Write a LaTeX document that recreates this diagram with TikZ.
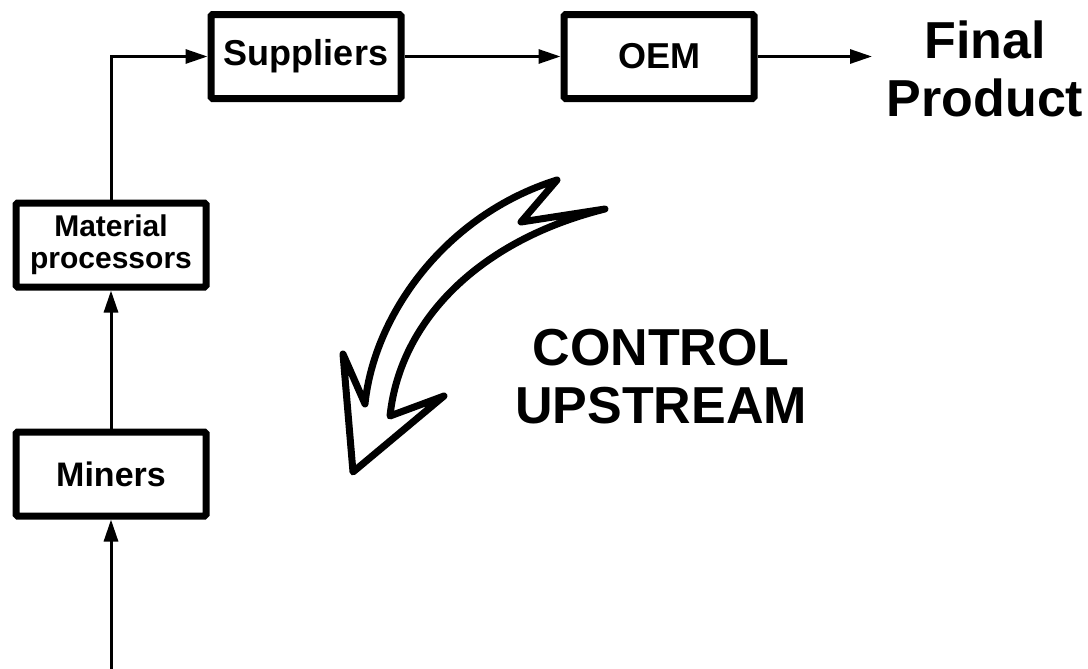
\documentclass[tikz,border=0pt]{standalone}
\usepackage{fontspec}
\setmainfont{Liberation Sans}
\usetikzlibrary{arrows.meta,positioning}

\begin{document}
\begin{tikzpicture}[x=0.5pt, y=-0.5pt,
    box/.style={draw, line width=3.5pt, rounded corners=0.8pt, minimum width=95pt,
        minimum height=42pt, inner sep=0pt, align=center,
        font=\bfseries\fontsize{18}{20}\selectfont},
    flow/.style={line width=1.5pt, -{Triangle[length=11pt,width=7pt]}},
    big/.style={align=center, font=\bfseries\fontsize{26}{29}\selectfont}]
    \useasboundingbox (0,0) rectangle (1088,669);

    % Chain of boxes
    \node[box] (sup) at (306,56.5) {Suppliers};
    \node[box] (oem) at (659,56.5) {OEM};
    \node[box, font=\bfseries\fontsize{15}{16}\selectfont] (mat) at (111,245) {Material\\processors};
    \node[box, font=\bfseries\fontsize{17}{20}\selectfont] (min) at (111,474) {Miners};

    % Labels
    \node[big] (fin) at (985,69) {Final\\Product};
    \node[big] (ctl) at (661,377) {CONTROL\\UPSTREAM};
    \coordinate (src) at (111,669);
    \coordinate (out) at (872,56.5);

    % Flow of material
    \draw[flow] (src) -- (min);
    \draw[flow] (min) -- (mat);
    \draw[flow] (mat.north) |- (sup);
    \draw[flow] (sup) -- (oem);
    \draw[flow] (oem) -- (out);

    % Hollow zigzag arrow pointing back down the chain
    \draw[line width=3.5pt, line join=round, line cap=round]
        (353,472) -- (343,354) -- (365,404)
        .. controls (374,315) and (445,215) .. (557,180)
        -- (521,222) -- (605,209)
        .. controls (480,240) and (400,320) .. (390,416)
        -- (444,396) -- cycle;
\end{tikzpicture}
\end{document}
